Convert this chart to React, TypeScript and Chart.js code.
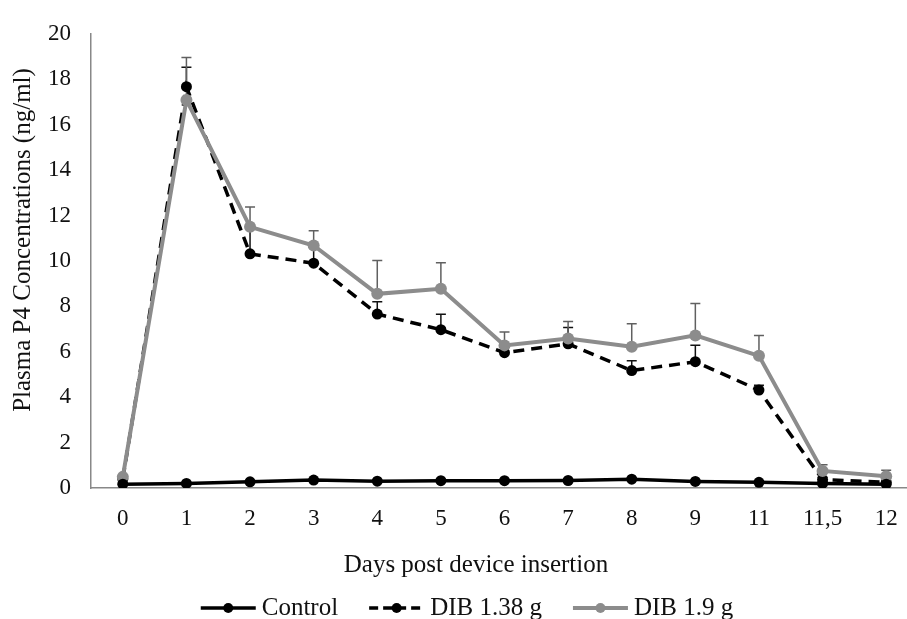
import React, { useEffect, useRef } from "react";
import { Chart, registerables } from "chart.js";

Chart.register(...registerables);

// ---- data ----
const days = ["0", "1", "2", "3", "4", "5", "6", "7", "8", "9", "11", "11,5", "12"];
const seriesLabels = ["Control", "DIB 1.38 g", "DIB 1.9 g"];
const control = [0.17, 0.2, 0.27, 0.35, 0.3, 0.32, 0.32, 0.33, 0.39, 0.29, 0.25, 0.2, 0.17];
const controlErr = [0.03, 0.03, 0.03, 0.04, 0.03, 0.03, 0.03, 0.03, 0.04, 0.03, 0.03, 0.03, 0.03];
const dib138 = [0.4, 17.67, 10.31, 9.9, 7.66, 6.97, 5.96, 6.35, 5.17, 5.56, 4.31, 0.37, 0.25];
const dib138Err = [0.05, 0.86, 1.09, 0.7, 0.54, 0.68, 0.34, 0.72, 0.43, 0.73, 0.21, 0.1, 0.05];
const dib19 = [0.49, 17.09, 11.5, 10.68, 8.55, 8.77, 6.28, 6.58, 6.22, 6.72, 5.82, 0.75, 0.52];
const dib19Err = [0.05, 1.87, 0.87, 0.65, 1.47, 1.15, 0.59, 0.75, 1.01, 1.4, 0.89, 0.27, 0.26];
const yMin = 0;
const yMax = 20;
const yStep = 2;
const xTitle = "Days post device insertion";
const yTitle = "Plasma P4 Concentrations (ng/ml)";

const errorSets = [controlErr, dib138Err, dib19Err];
const errorColors = ["#111111", "#111111", "#606060"];

const FONT = '"Liberation Serif", "Times New Roman", serif';
const TICK_SIZE = 23;
const TITLE_SIZE = 25;
const LEGEND_SIZE = 25;

const errorBarPlugin = {
  id: "errorBars",
  beforeDatasetsDraw(chart: any) {
    const ctx = chart.ctx;
    const yScale = chart.scales.y;
    chart.data.datasets.forEach((ds: any, di: number) => {
      const errs = errorSets[di];
      if (!errs) return;
      const meta = chart.getDatasetMeta(di);
      ctx.save();
      ctx.strokeStyle = errorColors[di];
      ctx.lineWidth = 1.5;
      ctx.setLineDash([]);
      meta.data.forEach((pt: any, i: number) => {
        const e = errs[i];
        if (!e) return;
        const top = yScale.getPixelForValue(ds.data[i] + e);
        ctx.beginPath();
        ctx.moveTo(pt.x, pt.y);
        ctx.lineTo(pt.x, top);
        ctx.moveTo(pt.x - 5, top);
        ctx.lineTo(pt.x + 5, top);
        ctx.stroke();
      });
      ctx.restore();
    });
  },
};

const titlesAndLegendPlugin = {
  id: "titlesAndLegend",
  afterDraw(chart: any) {
    const ctx = chart.ctx;
    ctx.save();
    ctx.fillStyle = "#111";
    ctx.textAlign = "center";
    ctx.textBaseline = "middle";

    // y-axis title
    ctx.font = `${TITLE_SIZE}px ${FONT}`;
    ctx.save();
    ctx.translate(23, 240);
    ctx.rotate(-Math.PI / 2);
    ctx.fillText(yTitle, 0, 0);
    ctx.restore();

    // x-axis title
    ctx.fillText(xTitle, 476, 565);

    // legend
    ctx.font = `${LEGEND_SIZE}px ${FONT}`;
    const sample = 55;
    const gapText = 6;
    const gapItem = 31;
    const items = chart.data.datasets.map((ds: any) => ({ ds, w: ctx.measureText(ds.label).width }));
    const total =
      items.reduce((s: number, it: any) => s + sample + gapText + it.w, 0) + gapItem * (items.length - 1);
    let x = 467 - total / 2;
    const yc = 608;
    items.forEach(({ ds, w }: any) => {
      ctx.strokeStyle = ds.borderColor;
      ctx.lineWidth = ds.borderWidth;
      ctx.setLineDash(ds.borderDash && ds.borderDash.length ? [9, 5] : []);
      ctx.beginPath();
      ctx.moveTo(x, yc);
      ctx.lineTo(x + sample, yc);
      ctx.stroke();
      ctx.setLineDash([]);
      ctx.fillStyle = ds.pointBackgroundColor;
      ctx.beginPath();
      ctx.arc(x + sample / 2, yc, 5, 0, Math.PI * 2);
      ctx.fill();
      ctx.fillStyle = "#111";
      ctx.textAlign = "left";
      ctx.textBaseline = "middle";
      ctx.fillText(ds.label, x + sample + gapText, yc);
      x += sample + gapText + w + gapItem;
    });
    ctx.restore();
  },
};

export default function App() {
  const ref = useRef<HTMLCanvasElement | null>(null);

  useEffect(() => {
    if (!ref.current) return;
    const chart = new Chart(ref.current, {
      type: "line",
      data: {
        labels: days,
        datasets: [
          {
            label: seriesLabels[0],
            data: control,
            borderColor: "#000000",
            backgroundColor: "#000000",
            pointBackgroundColor: "#000000",
            borderWidth: 3.5,
            pointRadius: 5.5,
            pointBorderWidth: 0,
            tension: 0,
            order: 0,
          },
          {
            label: seriesLabels[1],
            data: dib138,
            borderColor: "#000000",
            backgroundColor: "#000000",
            pointBackgroundColor: "#000000",
            borderWidth: 3.5,
            borderDash: [11, 7],
            pointRadius: 5.5,
            pointBorderWidth: 0,
            tension: 0,
            order: 2,
          },
          {
            label: seriesLabels[2],
            data: dib19,
            borderColor: "#8c8c8c",
            backgroundColor: "#8c8c8c",
            pointBackgroundColor: "#8c8c8c",
            borderWidth: 4,
            pointRadius: 6,
            pointBorderWidth: 0,
            tension: 0,
            order: 1,
          },
        ],
      },
      options: {
        animation: false,
        responsive: false,
        maintainAspectRatio: false,
        layout: { padding: { left: 0, top: 25, right: 22, bottom: 0 } },
        plugins: {
          legend: { display: false },
          tooltip: { enabled: false },
          title: { display: false },
        },
        scales: {
          x: {
            type: "category",
            offset: true,
            grid: { display: false, drawTicks: false },
            border: { display: true, color: "#888888", width: 1.5 },
            ticks: {
              color: "#111",
              font: { family: FONT, size: TICK_SIZE },
              padding: 17,
              maxRotation: 0,
              autoSkip: false,
            },
            afterFit: (scale: any) => {
              scale.height = 619 - 488;
            },
          },
          y: {
            min: yMin,
            max: yMax,
            grid: { display: false, drawTicks: false },
            border: { display: true, color: "#888888", width: 1.5 },
            ticks: {
              stepSize: yStep,
              color: "#111",
              font: { family: FONT, size: TICK_SIZE },
              padding: 20,
            },
            title: { display: false },
            afterFit: (scale: any) => {
              scale.width = 91;
            },
          },
        },
      },
      plugins: [errorBarPlugin, titlesAndLegendPlugin],
    });
    return () => chart.destroy();
  }, []);

  return (
    <div style={{ position: "fixed", left: 0, top: 0, width: 907, height: 619, overflow: "hidden", background: "#fff" }}>
      <canvas ref={ref} width={940} height={619} style={{ display: "block", width: 940, height: 619 }} />
    </div>
  );
}
